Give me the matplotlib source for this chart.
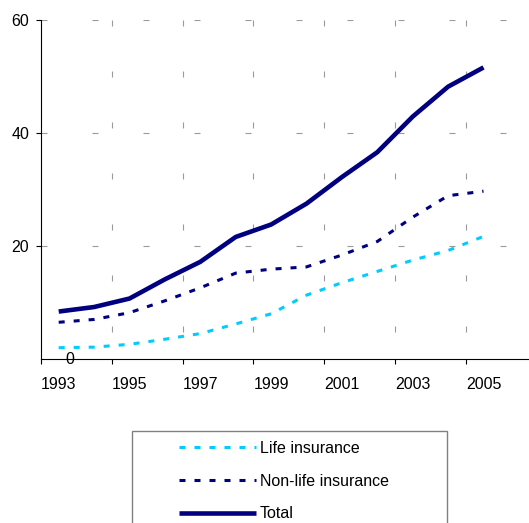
import matplotlib
matplotlib.use("Agg")
import matplotlib.pyplot as plt
from matplotlib.patches import Rectangle
from matplotlib.lines import Line2D

plt.rcParams['font.family'] = ['Liberation Sans', 'DejaVu Sans']
plt.rcParams['lines.scale_dashes'] = False

years = [1993, 1994, 1995, 1996, 1997, 1998, 1999, 2000, 2001, 2002, 2003, 2004, 2005]
life = [2.0, 2.1, 2.6, 3.5, 4.5, 6.2, 8.0, 11.3, 13.5, 15.5, 17.5, 19.2, 21.7]
nonlife = [6.5, 7.0, 8.2, 10.3, 12.6, 15.2, 15.9, 16.3, 18.4, 20.8, 25.1, 28.9, 29.7]
total = [8.4, 9.2, 10.7, 14.1, 17.2, 21.6, 23.8, 27.5, 32.2, 36.6, 42.9, 48.2, 51.6]
yticks = [20, 40, 60]
xlabels = ['1993', '1995', '1997', '1999', '2001', '2003', '2005']
series_names = ['Life insurance', 'Non-life insurance', 'Total']

W, H = 529, 523
fig = plt.figure(figsize=(W / 100, H / 100), dpi=100)
px = 1 / 100 * 72  # points per pixel

ax_left = 41 / W
ax_bottom = (H - 359) / H
ax_h = (359 - 20) / H
ncat = 14
cat_w = 35.4
ax = fig.add_axes([ax_left, ax_bottom, ncat * cat_w / W, ax_h])

x = list(range(len(years)))
ax.set_xlim(-0.5, ncat - 0.5)
ax.set_ylim(0, 60)

grid_col = '#9a9a9a'
gls = (0, (6 * px, 45 * px))
# horizontal grid lines (drawn left to right)
ax.hlines(yticks, -0.5, ncat - 0.5, colors=grid_col, linewidth=0.8,
          linestyles=[gls], zorder=1)
# vertical grid lines every second category boundary (drawn top to bottom)
vb = [i + 1.5 for i in range(0, 12, 2)]
ax.vlines(vb, 60, 0, colors=grid_col, linewidth=0.8, linestyles=[gls], zorder=1)

dash = (0, (6 * px, 9 * px))
ax.plot(x, life, color='#00CCFF', lw=2.2, linestyle=dash, dash_capstyle='butt', zorder=3)
ax.plot(x, nonlife, color='#000080', lw=2.2, linestyle=dash, dash_capstyle='butt', zorder=3)
ax.plot(x, total, color='#000080', lw=3.3, solid_capstyle='butt', zorder=4)

for s in ['top', 'right']:
    ax.spines[s].set_visible(False)
for s in ['left', 'bottom']:
    ax.spines[s].set_linewidth(0.8)
    ax.spines[s].set_color('#000000')

ax.set_yticks(yticks)
ax.set_yticklabels([str(v) for v in yticks])
ax.tick_params(axis='y', direction='out', length=5 * px, width=0.8, pad=5, labelsize=11.5)

ax.set_xticks([i - 0.5 for i in range(0, ncat + 1, 2)])
ax.set_xticklabels([])
ax.set_xticks(list(range(0, len(years), 2)), minor=True)
ax.set_xticklabels(xlabels, minor=True)
ax.tick_params(axis='x', which='major', direction='out', length=5 * px, width=0.8)
ax.tick_params(axis='x', which='minor', length=0, pad=13, labelsize=11.5)

ax.text(0.32, 0, '0', ha='center', va='center', fontsize=11.5, zorder=5)

# legend frame
lx0, ly0, lx1, ly1 = 132, 431, 447, 540
fig.patches.append(Rectangle((lx0 / W, 1 - ly1 / H), (lx1 - lx0) / W, (ly1 - ly0) / H,
                             transform=fig.transFigure, fill=False,
                             edgecolor='#808080', linewidth=1.0))
handles = [
    Line2D([], [], color='#00CCFF', lw=2.2, linestyle=dash, dash_capstyle='butt'),
    Line2D([], [], color='#000080', lw=2.2, linestyle=dash, dash_capstyle='butt'),
    Line2D([], [], color='#000080', lw=3.3, solid_capstyle='butt'),
]
fig.legend(handles, series_names, loc='upper left',
           bbox_to_anchor=(179 / W, 1 - 441 / H), frameon=False, fontsize=11.5,
           borderpad=0, borderaxespad=0, handlelength=77 * px / 11.5,
           handletextpad=0.25, labelspacing=1.1)

fig.savefig('out.png', dpi=100)
